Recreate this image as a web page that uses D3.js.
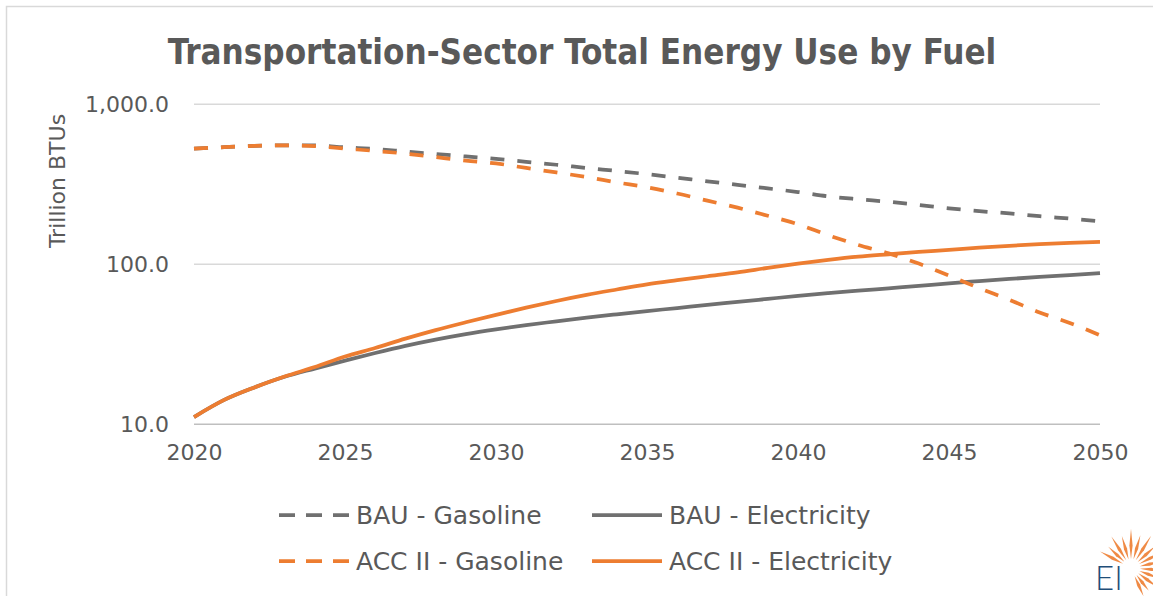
<!DOCTYPE html>
<html>
<head>
<meta charset="utf-8">
<script src="https://cdn.jsdelivr.net/npm/d3@7"></script>
<style>
  body { margin: 0; background: #fff; }
  text { font-family: "Century Gothic", "DejaVu Sans", sans-serif; fill: #595959; }
</style>
</head>
<body>
<svg id="chart" width="1153" height="596"></svg>
<script>
// values (trillion BTUs)
var years = [2020, 2021, 2022, 2023, 2024, 2025, 2026, 2027, 2028, 2029, 2030,
             2031, 2032, 2033, 2034, 2035, 2036, 2037, 2038, 2039, 2040,
             2041, 2042, 2043, 2044, 2045, 2046, 2047, 2048, 2049, 2050];
var bauGasoline = [528, 540, 549, 554, 553, 538, 526, 507, 489, 472, 456,
                   437, 419, 400, 383, 366, 348, 330, 314, 298, 283,
                   266, 255, 246, 235, 224, 215, 208, 200, 193, 186];
var bauElectricity = [11.1, 14.2, 17.0, 19.8, 22.3, 25.0, 27.9, 30.9, 33.8, 36.6, 39.2,
                      41.7, 44.0, 46.4, 48.7, 51.0, 53.3, 55.8, 58.2, 60.8, 63.5,
                      66.0, 68.4, 70.8, 73.3, 76.0, 78.5, 81.0, 83.4, 85.7, 88.0];
var accGasoline = [528, 540, 549, 554, 548, 529, 511, 492, 468, 445, 427,
                   400, 375, 351, 325, 303, 277, 250, 226, 201, 178,
                   152, 132, 117, 101, 85, 71, 60, 50, 43, 36];
var accElectricity = [11.1, 14.2, 17.0, 19.9, 22.8, 26.5, 30.0, 34.3, 38.8, 43.4, 48.3,
                      53.6, 59.0, 64.4, 69.6, 75.0, 79.6, 84.2, 89.0, 95.0, 101,
                      106.5, 111.5, 115.5, 119.5, 123, 127, 130.5, 133.5, 136, 138];
var yTicks = [10, 100, 1000];
var xTicks = [2020, 2025, 2030, 2035, 2040, 2045, 2050];

var series = [
  {name: "BAU - Gasoline", values: bauGasoline, color: "#707070", dash: true},
  {name: "BAU - Electricity", values: bauElectricity, color: "#707070", dash: false},
  {name: "ACC II - Gasoline", values: accGasoline, color: "#ED7D31", dash: true},
  {name: "ACC II - Electricity", values: accElectricity, color: "#ED7D31", dash: false}
];

var svg = d3.select("#chart");

// outer frame of the chart object
svg.append("rect")
  .attr("x", 6.5).attr("y", 6.5)
  .attr("width", 1160).attr("height", 600)
  .attr("fill", "none").attr("stroke", "#d9d9d9").attr("stroke-width", 1.5);

var x = d3.scaleLinear().domain([2020, 2050]).range([194, 1100]);
var y = d3.scaleLog().domain([10, 1000]).range([424.3, 104.3]);

// title: a condensed bold face, sized so it spans the same width as the picture
var title = svg.append("text")
  .attr("x", 582).attr("y", 64)
  .attr("text-anchor", "middle")
  .style("font-family", "'DejaVu Sans Condensed', 'Liberation Sans Narrow', 'DejaVu Sans', sans-serif")
  .style("font-size", "36px").style("font-weight", "bold")
  .text("Transportation-Sector Total Energy Use by Fuel");
var tw = title.node().getComputedTextLength();
title.style("font-size", Math.min(40, 36 * 829 / tw) + "px");

// gridlines
svg.append("g").selectAll("line")
  .data(yTicks)
  .join("line")
  .attr("x1", 194).attr("x2", 1100)
  .attr("y1", function(d) { return y(d); })
  .attr("y2", function(d) { return y(d); })
  .attr("stroke", function(d) { return d === 10 ? "#bfbfbf" : "#d9d9d9"; })
  .attr("stroke-width", 1.5);

// y axis labels
var yAxis = svg.append("g")
  .attr("transform", "translate(194,0)")
  .call(d3.axisLeft(y).tickValues(yTicks).tickFormat(d3.format(",.1f")).tickSize(0).tickPadding(25));
yAxis.select(".domain").remove();
yAxis.selectAll("text")
  .style("font-size", "22px").style("font-family", null).attr("fill", null);

// x axis labels
var xAxis = svg.append("g")
  .attr("transform", "translate(0,424.3)")
  .call(d3.axisBottom(x).tickValues(xTicks).tickFormat(d3.format("d")).tickSize(0).tickPadding(20));
xAxis.select(".domain").remove();
xAxis.selectAll("text")
  .style("font-size", "22px").style("font-family", null).attr("fill", null);

svg.append("text")
  .attr("transform", "translate(65,181) rotate(-90)")
  .attr("text-anchor", "middle")
  .style("font-size", "22px")
  .text("Trillion BTUs");

// lines
var line = d3.line()
  .x(function(d, i) { return x(years[i]); })
  .y(function(d) { return y(d); })
  .curve(d3.curveMonotoneX);

svg.append("g").selectAll("path")
  .data(series)
  .join("path")
  .attr("d", function(s) { return line(s.values); })
  .attr("fill", "none")
  .attr("stroke", function(s) { return s.color; })
  .attr("stroke-width", 3.75)
  .attr("stroke-dasharray", function(s) { return s.dash ? "14,13" : null; });

// legend
var legendPos = [
  {x: 279, y: 515}, {x: 592, y: 515},
  {x: 279, y: 561}, {x: 592, y: 561}
];
var legend = svg.append("g").selectAll("g")
  .data(series)
  .join("g")
  .attr("transform", function(s, i) { return "translate(" + legendPos[i].x + "," + legendPos[i].y + ")"; });
legend.append("line")
  .attr("x1", 0).attr("x2", 70)
  .attr("stroke", function(s) { return s.color; })
  .attr("stroke-width", 3.75)
  .attr("stroke-dasharray", function(s) { return s.dash ? "16,11" : null; });
legend.append("text")
  .attr("x", 77).attr("dy", "0.35em")
  .style("font-size", "25px")
  .text(function(s) { return s.name; });

// EI logo, bottom right
var logo = svg.append("g").attr("transform", "translate(1131,568)");
var rayAngles = [-152, -137, -122, -106, -90, -74, -58, -42, -27, -12, 4, 20, 36, 52, 66];
var rayLengths = [26, 22, 28, 24, 30, 25, 29, 24, 27, 22, 25, 21, 24, 20, 22];
logo.selectAll("path")
  .data(rayAngles)
  .join("path")
  .attr("d", function(a, i) {
    var r0 = 9, r1 = r0 + rayLengths[i], t = a * Math.PI / 180, w = 1.6;
    var nx = -Math.sin(t) * w, ny = Math.cos(t) * w;
    var bx = Math.cos(t) * r0, by = Math.sin(t) * r0;
    var mx = Math.cos(t) * (r0 + rayLengths[i] * 0.45), my = Math.sin(t) * (r0 + rayLengths[i] * 0.45);
    return "M" + (bx) + "," + (by) +
           "L" + (mx + nx) + "," + (my + ny) +
           "L" + (Math.cos(t) * r1) + "," + (Math.sin(t) * r1) +
           "L" + (mx - nx) + "," + (my - ny) + "Z";
  })
  .attr("fill", "#ED7D31")
  .attr("opacity", 0.9);
svg.append("text")
  .attr("x", 1095).attr("y", 590)
  .style("font-family", "Lato, 'DejaVu Sans', sans-serif")
  .style("font-size", "33px").style("font-weight", "300")
  .style("fill", "#1f4e79")
  .text("EI");
</script>
</body>
</html>
